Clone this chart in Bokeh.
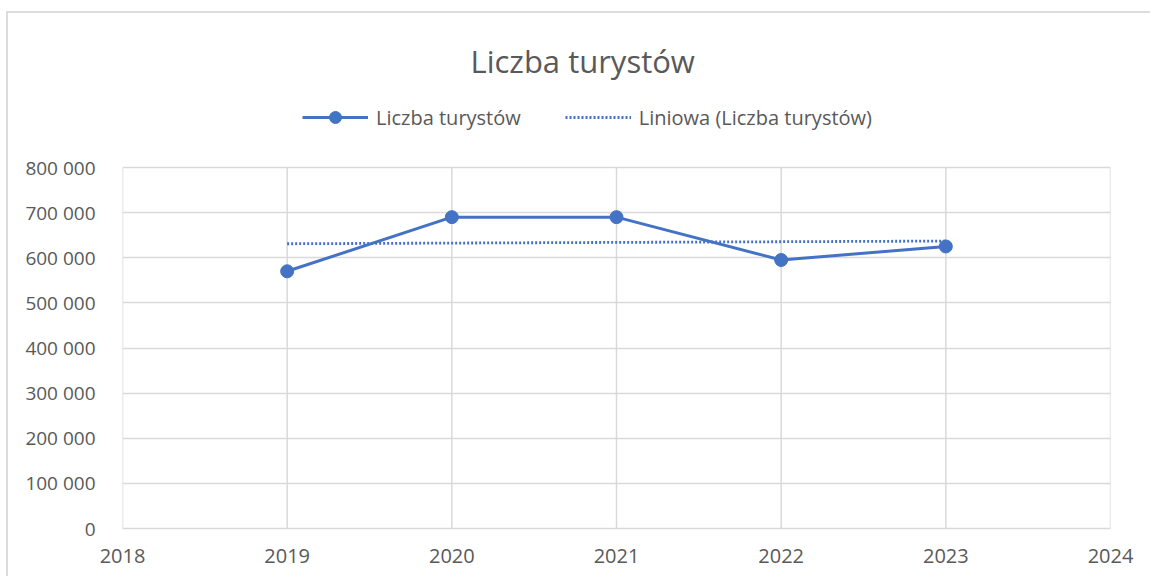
import numpy as np
from bokeh.plotting import figure
from bokeh.models import FixedTicker, Legend, LegendItem
from bokeh.embed import file_html
from bokeh.resources import INLINE

# ---- data ----
years = [2019, 2020, 2021, 2022, 2023]
tourists = [570000, 690000, 690000, 595000, 625000]
x_ticks = [2018, 2019, 2020, 2021, 2022, 2023, 2024]
y_ticks = [0, 100000, 200000, 300000, 400000, 500000, 600000, 700000, 800000]
y_tick_labels = ["0", "100 000", "200 000", "300 000", "400 000",
                 "500 000", "600 000", "700 000", "800 000"]
title_text = "Liczba turystów"
series_name = "Liczba turystów"
trend_name = "Liniowa (Liczba turystów)"

# linear trendline (least squares fit of the series)
coef = np.polyfit(years, tourists, 1)
trend_vals = list(np.polyval(coef, [years[0], years[-1]]))
trend_x = [years[0], years[-1]]

FONT = "Open Sans"
TXT = "#595959"
BLUE = "#4472C4"
GRID = "#d9d9d9"

# layout (pixels): the frame reaches above the value axis top so that the
# legend can sit inside it, as in the reference's header band
H, BORDER_TOP, BORDER_BOTTOM = 565, 79, 50
FRAME_H = H - BORDER_TOP - BORDER_BOTTOM          # 436 px
AXIS_H = 361                                      # px from 0 to 800 000
y_top = y_ticks[-1] * FRAME_H / AXIS_H

p = figure(width=1144, height=H, x_range=(2018, 2024), y_range=(0, y_top),
           output_backend="svg", toolbar_location=None,
           min_border_left=114, min_border_right=42,
           min_border_bottom=BORDER_BOTTOM, min_border_top=BORDER_TOP)
p.styles = {"border-top": "2px solid #dcdcdc", "border-left": "2px solid #dcdcdc",
            "margin-top": "11px", "margin-left": "6px"}

p.title.text = title_text
p.title.text_font = FONT
p.title.text_font_size = "31px"
p.title.text_font_style = "normal"
p.title.text_color = TXT
p.title.align = "left"
p.title.offset = 348
p.title.standoff = 22

p.outline_line_color = None
p.background_fill_color = "white"
p.border_fill_color = "white"

# horizontal grid from the axis ticks; vertical grid limited to the value range
p.ygrid.ticker = FixedTicker(ticks=y_ticks)
p.ygrid.grid_line_color = GRID
p.ygrid.grid_line_width = 1.5
p.xgrid.visible = False
p.segment(x0=x_ticks, y0=[y_ticks[0]] * len(x_ticks),
          x1=x_ticks, y1=[y_ticks[-1]] * len(x_ticks),
          line_color=GRID, line_width=1.5)

p.xaxis.ticker = FixedTicker(ticks=x_ticks)
p.yaxis.ticker = FixedTicker(ticks=y_ticks)
p.yaxis.major_label_overrides = {t: l for t, l in zip(y_ticks, y_tick_labels)}
p.xaxis.major_label_overrides = {t: str(t) for t in x_ticks}
for ax in (p.xaxis, p.yaxis):
    ax.major_tick_line_color = None
    ax.minor_tick_line_color = None
    ax.major_label_text_font = FONT
    ax.major_label_text_color = TXT
p.yaxis.major_label_text_font_size = "19px"
p.xaxis.major_label_text_font_size = "20px"
p.yaxis.axis_line_color = None
p.xaxis.axis_line_color = GRID
p.xaxis.axis_line_width = 1.5
p.yaxis.major_label_standoff = 21
p.xaxis.major_label_standoff = 14

trend_r = p.line(trend_x, trend_vals, line_color=BLUE, line_width=2.8,
                 line_dash="2 2")
line_r = p.line(years, tourists, line_color=BLUE, line_width=3)
dot_r = p.scatter(years, tourists, size=13, fill_color=BLUE, line_color=BLUE)

legend = Legend(items=[LegendItem(label=series_name, renderers=[line_r, dot_r]),
                       LegendItem(label=trend_name, renderers=[trend_r])],
                orientation="horizontal", location=(180, 396))
legend.label_text_font = FONT
legend.label_text_font_size = "20px"
legend.label_text_color = TXT
legend.glyph_width = 66
legend.glyph_height = 30
legend.spacing = 44
legend.label_standoff = 8
legend.padding = 0
legend.margin = 0
legend.border_line_color = None
legend.background_fill_alpha = 0
p.add_layout(legend, "center")

open("out.html", "w").write(file_html(p, INLINE))
